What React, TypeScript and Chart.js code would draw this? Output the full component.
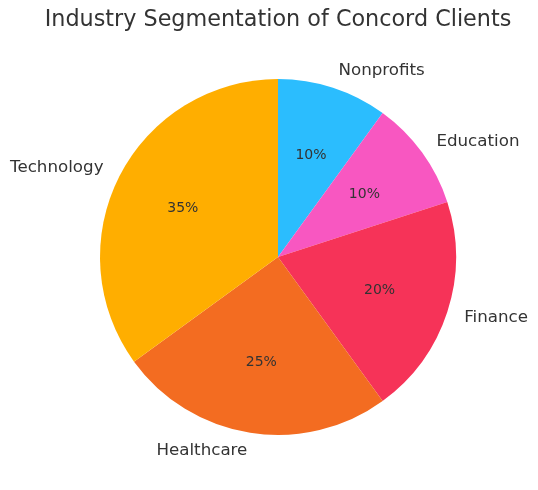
import React, { useEffect, useRef } from 'react';
import Chart from 'chart.js/auto';

// clockwise from 12 o'clock
const industries = ['Nonprofits', 'Education', 'Finance', 'Healthcare', 'Technology'];
const shares = [10, 10, 20, 25, 35];
const sliceColors = ['#2BBDFE', '#F857C1', '#F63358', '#F36C21', '#FFAE00'];

const TEXT = '#333333';
const FONT = '"DejaVu Sans", sans-serif';

const pieText = {
  id: 'pieText',
  afterDraw(chart) {
    const { ctx } = chart;
    const meta = chart.getDatasetMeta(0);
    const total = shares.reduce((a, b) => a + b, 0);
    ctx.save();
    ctx.fillStyle = TEXT;

    ctx.font = `22.3px ${FONT}`;
    ctx.textAlign = 'center';
    ctx.textBaseline = 'middle';
    const cx = (chart.chartArea.left + chart.chartArea.right) / 2;
    ctx.fillText('Industry Segmentation of Concord Clients', cx, 20);

    meta.data.forEach((arc, i) => {
      const { x, y, startAngle, endAngle, outerRadius } = arc;
      const mid = (startAngle + endAngle) / 2;
      const cos = Math.cos(mid);
      const sin = Math.sin(mid);

      ctx.font = `16.7px ${FONT}`;
      ctx.textAlign = cos > 0 ? 'left' : 'right';
      ctx.textBaseline = 'middle';
      ctx.fillText(industries[i], x + cos * outerRadius * 1.1, y + sin * outerRadius * 1.1);

      ctx.font = `14px ${FONT}`;
      ctx.textAlign = 'center';
      const pct = Math.round((shares[i] / total) * 100) + '%';
      ctx.fillText(pct, x + cos * outerRadius * 0.6, y + sin * outerRadius * 0.6);
    });
    ctx.restore();
  },
};

const App = () => {
  const canvasRef = useRef(null);

  useEffect(() => {
    document.body.style.margin = '0';
    if (!canvasRef.current) return;
    const chart = new Chart(canvasRef.current, {
      type: 'pie',
      data: {
        labels: industries,
        datasets: [
          {
            data: shares,
            backgroundColor: sliceColors,
            borderWidth: 0,
          },
        ],
      },
      options: {
        animation: false,
        responsive: false,
        layout: { padding: { top: 79, bottom: 55, left: 100, right: 82 } },
        plugins: {
          legend: { display: false },
          title: { display: false },
          tooltip: { enabled: false },
        },
      },
      plugins: [pieText],
    });
    return () => chart.destroy();
  }, []);

  return (
    <div style={{ width: 538, height: 490, background: '#fff' }}>
      <canvas ref={canvasRef} width={538} height={490} />
    </div>
  );
};

export default App;
